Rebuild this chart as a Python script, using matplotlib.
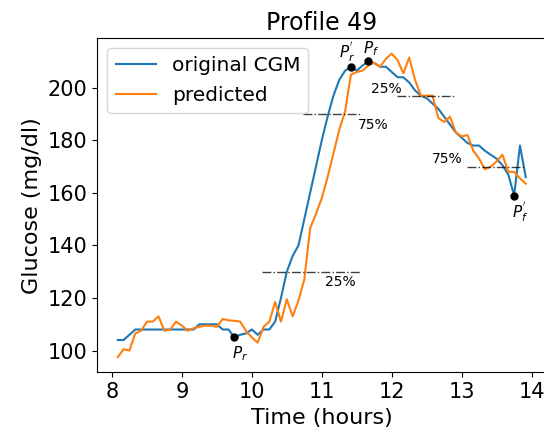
import matplotlib
matplotlib.use("Agg")
import matplotlib.pyplot as plt
import numpy as np

# 5-minute CGM samples, 8:05 -> 13:55
time_h = 8 + np.arange(1, 72) / 12.0

original = [104, 104, 106, 108, 108, 108, 108, 108, 108, 108,
            108, 108, 108, 108, 110, 110, 110, 110, 108, 108,
            105, 106, 106.5, 108, 106, 108, 108, 111, 120, 130,
            136, 140, 150, 160, 170, 180, 189, 197, 203, 206.5,
            208, 206.5, 208.5, 210, 209.4, 208, 208, 206, 204, 204,
            202, 199, 197, 196, 194, 192, 189, 186, 183, 181,
            179, 178, 178, 176, 174.5, 173, 170.5, 167, 159, 178,
            166]

predicted = [97.5, 100.5, 100, 106.5, 107.5, 111, 111, 113, 107.5, 108,
             111, 109.5, 107.5, 108.5, 109, 109.5, 109.5, 109, 112, 111.5,
             111.3, 111, 107.5, 105, 103, 109, 111, 118.5, 111, 119.5,
             113, 119, 127, 146.5, 152, 158, 166, 175, 184, 191,
             205, 206, 206.5, 208.5, 209.5, 208, 211, 213, 210.5, 205.5,
             211.5, 203, 197, 197, 197, 188.5, 187, 189, 183, 181.5,
             182, 176, 173, 169, 170, 172, 174.5, 168, 168, 165.5,
             163.5]

# key points: label, time, glucose, label position
points = [
    (r"$P_r$", 9.75, 105, 9.83, 98.9),
    (r"$P_r^{'}$", 11.417, 208, 11.36, 213.7),
    (r"$P_f$", 11.667, 210, 11.71, 215.0),
    (r"$P_f^{'}$", 13.75, 159, 13.84, 152.8),
]

# threshold lines: level, x start, x end, label, label position
thresholds = [
    (130, 10.15, 11.55, "25%", 11.26, 125.9),
    (190, 10.73, 11.57, "75%", 11.73, 185.8),
    (197, 12.07, 12.90, "25%", 11.92, 199.6),
    (170, 13.07, 13.90, "75%", 12.79, 172.8),
]

fig = plt.figure(figsize=(5.44, 4.36), dpi=100)
ax = fig.add_axes([0.179, 0.146, 0.825, 0.766])

ax.plot(time_h, original, color="#1f77b4", lw=1.5, label="original CGM")
ax.plot(time_h, predicted, color="#ff7f0e", lw=1.5, label="predicted")

for lvl, x0, x1, txt, tx, ty in thresholds:
    ax.plot([x0, x1], [lvl, lvl], color="k", ls="-.", lw=1, alpha=0.75)
    ax.text(tx, ty, txt, fontsize=10, ha="center", va="center")

for txt, px, py, tx, ty in points:
    ax.plot(px, py, "o", color="k", ms=5)
    ax.text(tx, ty, txt, fontsize=11, ha="center", va="center")

ax.set_xlim(7.7917, 14.2083)
ax.set_ylim(91.7, 218.8)
ax.set_xticks([8, 9, 10, 11, 12, 13, 14])
ax.set_yticks([100, 120, 140, 160, 180, 200])
ax.tick_params(labelsize=15)
ax.set_xlabel("Time (hours)", fontsize=16)
ax.set_ylabel("Glucose (mg/dl)", fontsize=16)
ax.set_title("Profile 49", fontsize=17)
ax.legend(loc="upper left", fontsize=14.5)

fig.savefig("out.png", dpi=100)
